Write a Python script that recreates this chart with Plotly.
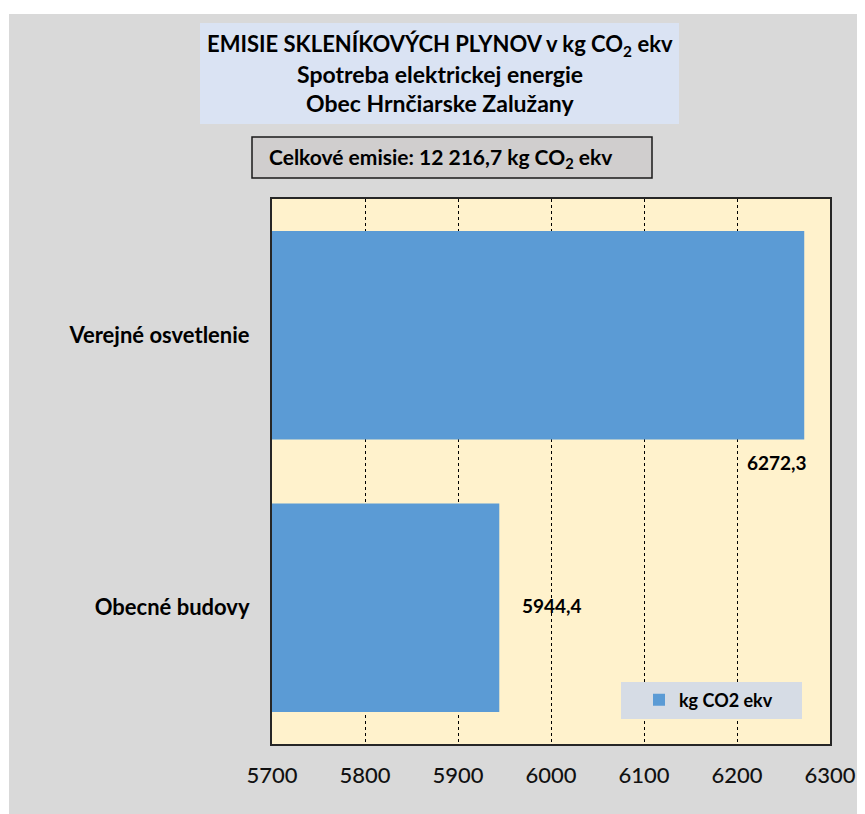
import plotly.graph_objects as go

# ---- data ----
categories = ["Obecné budovy", "Verejné osvetlenie"]
values = [5944.4, 6272.3]
series_name = "kg CO2 ekv"
x_ticks = [5700, 5800, 5900, 6000, 6100, 6200, 6300]
title_lines = ["EMISIE SKLENÍKOVÝCH PLYNOV v kg CO<sub>2</sub> ekv",
               "Spotreba elektrickej energie",
               "Obec Hrnčiarske Zalužany"]

W, H = 865, 814
OFF = 8  # page body margin
# plot area in page pixels: x 272..830, y 199..744
L = 272 - OFF
R = W - (830 - OFF)
T = 199 - OFF
B = H - (744 - OFF)
PW, PH = W - L - R, H - T - B
FONT = "Lato"


def px(xp):
    return (xp - OFF - L) / PW


def py(yp):
    return (H - B - (yp - OFF)) / PH


def fmt(v):
    return f"{v:.1f}".replace(".", ",")


total = sum(values)
total_txt = f"{total:,.1f}".replace(",", " ").replace(".", ",")

fig = go.Figure()
fig.add_trace(go.Bar(
    y=categories, x=values, orientation="h", name=series_name,
    marker=dict(color="#5b9bd5", line=dict(width=0)),
    showlegend=True,
))

shapes = [
    # white page strips (left / top)
    dict(type="rect", xref="paper", yref="paper", x0=px(0), x1=px(9), y0=py(H + 20), y1=py(0),
         fillcolor="white", line=dict(width=0), layer="above"),
    dict(type="rect", xref="paper", yref="paper", x0=px(0), x1=px(W + 20), y0=py(14), y1=py(0),
         fillcolor="white", line=dict(width=0), layer="above"),
    # title box
    dict(type="rect", xref="paper", yref="paper", x0=px(200), x1=px(679), y0=py(124), y1=py(23),
         fillcolor="#dae3f3", line=dict(width=0), layer="below"),
    # total box
    dict(type="rect", xref="paper", yref="paper", x0=px(252), x1=px(652), y0=py(178), y1=py(137),
         fillcolor="#d0cece", line=dict(color="#1a1a1a", width=1.5), layer="below"),
    # legend box
    dict(type="rect", xref="paper", yref="paper", x0=px(621), x1=px(802), y0=py(719), y1=py(682),
         fillcolor="#d6dce5", line=dict(width=0), layer="above"),
]

annotations = []
for txt, yc, fs in zip(title_lines, [45, 74, 103], [22, 23, 23]):
    annotations.append(dict(text=txt, xref="paper", yref="paper", x=px(440), y=py(yc),
                            xanchor="center", yanchor="middle", showarrow=False,
                            font=dict(family=FONT, size=fs, color="#000000", weight="bold")))
annotations.append(dict(text=f"Celkové emisie: {total_txt} kg CO<sub>2</sub> ekv",
                        xref="paper", yref="paper", x=px(267), y=py(158),
                        xanchor="left", yanchor="middle", showarrow=False,
                        font=dict(family=FONT, size=21, color="#000000", weight="bold")))
# data labels
annotations.append(dict(text=fmt(values[1]), x=values[1], y=categories[1], xref="x", yref="y",
                        xanchor="right", yanchor="middle", xshift=5, yshift=-127, showarrow=False,
                        font=dict(family=FONT, size=19, color="#000000", weight="bold")))
annotations.append(dict(text=fmt(values[0]), x=values[0], y=categories[0], xref="x", yref="y",
                        xanchor="left", yanchor="middle", xshift=21, yshift=2, showarrow=False,
                        font=dict(family=FONT, size=19, color="#000000", weight="bold")))

fig.update_layout(
    width=W, height=H,
    margin=dict(l=L, r=R, t=T, b=B),
    paper_bgcolor="#d9d9d9",
    plot_bgcolor="#fff2cc",
    bargap=0.235,
    shapes=shapes,
    annotations=annotations,
    showlegend=True,
    legend=dict(x=px(639), y=py(700), xanchor="left", yanchor="middle",
                bgcolor="rgba(0,0,0,0)", borderwidth=0,
                font=dict(family=FONT, size=18, color="#000000", weight="bold")),
    font=dict(family=FONT, color="#000000"),
)
fig.update_xaxes(
    range=[5700, 6300], tickvals=x_ticks, ticktext=[str(t) for t in x_ticks],
    showgrid=True, gridcolor="#000000", gridwidth=1, griddash="3px,3px",
    showline=True, linecolor="#262626", linewidth=2, mirror=True,
    ticks="", ticklabelstandoff=11, zeroline=False,
    tickfont=dict(family=FONT, size=22, color="#111111", weight=500),
)
fig.update_yaxes(
    categoryorder="array", categoryarray=categories,
    showgrid=False, showline=True, linecolor="#262626", linewidth=2, mirror=True,
    ticks="", ticklabelstandoff=16,
    tickfont=dict(family=FONT, size=22, color="#000000", weight="bold"),
)
fig.write_html("out.html")
